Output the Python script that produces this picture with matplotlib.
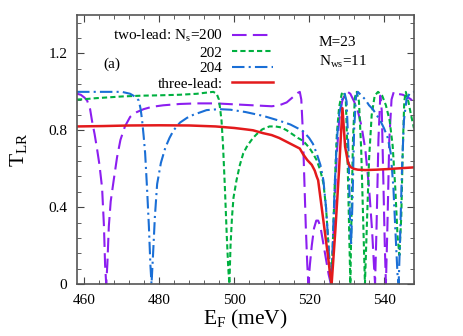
import numpy as np
import matplotlib
matplotlib.use("Agg")
import matplotlib.pyplot as plt
from matplotlib.ticker import MultipleLocator

plt.rcParams['font.family'] = ['Liberation Serif', 'DejaVu Serif']
plt.rcParams['mathtext.fontset'] = 'custom'
plt.rcParams['mathtext.rm'] = 'Liberation Serif'
plt.rcParams['mathtext.it'] = 'Liberation Serif:italic'

# two-lead, Ns=200
e200 = [458.0, 459.0, 460.0, 460.7, 461.5, 462.0, 462.7, 463.3, 464.0, 464.7, 465.2, 465.5,
        465.8, 466.1, 466.5, 467.0, 467.8, 468.7, 469.6, 470.8, 472.2, 474.0, 475.8, 478.0,
        481.0, 485.5, 490.0, 495.0, 500.0, 505.0, 510.0, 512.0, 514.0, 515.8, 517.0, 517.5,
        517.9, 518.3, 518.7, 519.1, 519.5, 519.8, 520.2, 520.7, 521.3, 521.9, 522.4, 523.0,
        523.7, 524.4, 525.2, 525.8, 526.3, 526.8, 527.4, 528.0, 528.8, 529.6, 530.3, 531.0,
        532.0, 533.0, 534.0, 535.0, 536.0, 536.8, 537.3, 537.6, 538.0, 538.5, 539.0, 539.4,
        539.8, 540.2, 540.5, 540.9, 541.4, 542.0, 542.6, 543.5, 545.0, 546.5, 548.0]
t200 = [0.99, 0.985, 0.97, 0.955, 0.91, 0.85, 0.78, 0.71, 0.62, 0.50, 0.30, 0.10,
        0.0, 0.10, 0.30, 0.43, 0.54, 0.66, 0.75, 0.82, 0.87, 0.895, 0.91, 0.922,
        0.93, 0.937, 0.94, 0.94, 0.935, 0.93, 0.925, 0.93, 0.945, 0.975, 0.995, 1.0,
        0.96, 0.8, 0.55, 0.3, 0.1, 0.0, 0.1, 0.2, 0.29, 0.33, 0.33, 0.3,
        0.22, 0.14, 0.05, 0.0, 0.15, 0.42, 0.68, 0.85, 0.95, 0.99, 1.0, 0.99,
        0.95, 0.9, 0.82, 0.7, 0.5, 0.28, 0.1, 0.0, 0.3, 0.75, 0.98, 0.9,
        0.55, 0.2, 0.0, 0.3, 0.75, 0.96, 1.0, 0.99, 0.985, 0.97, 0.95]

# two-lead, Ns=202
e202 = [458.0, 460.0, 463.0, 466.9, 470.0, 475.0, 480.0, 485.5, 490.0, 493.0, 494.4, 495.3,
        495.9, 496.3, 496.6, 497.0, 497.5, 498.0, 498.4, 498.7, 499.0, 499.4, 499.8, 500.6,
        501.5, 502.4, 503.5, 505.0, 506.0, 507.5, 509.4, 511.0, 512.5, 514.0, 515.5, 517.0,
        518.4, 520.0, 521.0, 522.0, 523.0, 523.8, 524.5, 525.1, 525.6, 525.9, 526.3, 526.8,
        527.4, 528.0, 528.7, 529.3, 529.8, 530.2, 530.6, 531.0, 531.3, 531.7, 532.2, 532.7,
        533.3, 533.9, 534.4, 534.9, 535.4, 536.0, 536.7, 537.5, 538.4, 539.5, 540.5, 541.5,
        542.3, 543.0, 543.6, 544.1, 544.6, 545.0, 545.4, 545.8, 546.5, 547.2, 548.0]
t202 = [0.96, 0.962, 0.967, 0.972, 0.976, 0.98, 0.982, 0.985, 0.99, 0.997, 1.0, 0.99,
        0.96, 0.9, 0.85, 0.72, 0.5, 0.25, 0.08, 0.0, 0.2, 0.35, 0.45, 0.54,
        0.62, 0.68, 0.72, 0.76, 0.78, 0.805, 0.82, 0.82, 0.815, 0.80, 0.78, 0.76,
        0.745, 0.71, 0.68, 0.645, 0.59, 0.525, 0.4, 0.22, 0.05, 0.0, 0.2, 0.5,
        0.78, 0.92, 0.99, 1.0, 0.95, 0.7, 0.35, 0.0, 0.35, 0.75, 0.97, 1.0,
        0.95, 0.7, 0.35, 0.0, 0.3, 0.65, 0.88, 0.98, 1.0, 0.98, 0.93, 0.85,
        0.72, 0.5, 0.25, 0.15, 0.35, 0.7, 0.95, 1.0, 0.95, 0.88, 0.81]

# two-lead, Ns=204
e204 = [458.0, 462.0, 466.0, 470.0, 472.2, 473.5, 474.5, 475.0, 475.4, 475.8, 476.2, 476.7,
        477.2, 477.6, 477.9, 478.3, 478.8, 479.4, 480.4, 481.6, 482.7, 483.8, 485.5, 487.4,
        489.0, 492.6, 496.0, 499.0, 503.0, 507.7, 512.0, 515.0, 517.0, 518.4, 520.0, 521.0,
        522.0, 523.0, 523.8, 524.5, 525.1, 525.6, 525.9, 526.3, 526.8, 527.4, 528.0, 528.8,
        529.5, 530.0, 530.5, 530.9, 531.2, 531.6, 532.0, 532.5, 533.0, 534.0, 535.0, 536.0,
        537.0, 538.0, 539.0, 540.0, 541.0, 541.8, 542.5, 543.1, 543.6, 543.9, 544.3, 544.8,
        545.3, 546.0, 546.8, 548.0]
t204 = [1.0, 1.0, 1.0, 1.0, 0.99, 0.975, 0.955, 0.91, 0.85, 0.77, 0.68, 0.5,
        0.3, 0.1, 0.0, 0.15, 0.35, 0.52, 0.63, 0.71, 0.76, 0.80, 0.84, 0.865,
        0.88, 0.905, 0.91, 0.907, 0.895, 0.875, 0.85, 0.83, 0.81, 0.795, 0.76, 0.73,
        0.68, 0.62, 0.54, 0.4, 0.22, 0.05, 0.0, 0.2, 0.5, 0.75, 0.88, 0.96,
        0.99, 0.95, 0.7, 0.35, 0.2, 0.45, 0.8, 0.97, 1.0, 0.98, 0.96, 0.93,
        0.91, 0.88, 0.85, 0.81, 0.76, 0.68, 0.5, 0.25, 0.05, 0.0, 0.25, 0.6,
        0.85, 0.96, 0.99, 1.0]

# three-lead
e3 = [458.0, 465.0, 472.0, 480.0, 488.0, 495.0, 500.0, 503.0, 505.0, 507.7, 510.0, 512.0,
      514.0, 516.0, 517.5, 518.4, 519.5, 520.7, 521.5, 522.0, 522.4, 523.0, 524.0, 525.0,
      525.6, 526.0, 526.5, 527.0, 527.5, 528.0, 528.5, 528.9, 529.6, 530.4, 531.0, 531.8,
      533.0, 535.0, 538.0, 541.0, 544.0, 548.0]
t3 = [0.82, 0.822, 0.825, 0.826, 0.825, 0.82, 0.812, 0.805, 0.80, 0.785, 0.775, 0.76,
      0.74, 0.72, 0.705, 0.675, 0.645, 0.62, 0.59, 0.56, 0.54, 0.45, 0.30, 0.15,
      0.05, 0.0, 0.14, 0.28, 0.44, 0.6, 0.78, 0.915, 0.715, 0.63, 0.61, 0.60,
      0.595, 0.593, 0.595, 0.598, 0.602, 0.607]

labels = ['two-lead: N$_\\mathrm{s}$=200', '202', '204', 'three-lead:']

fig = plt.figure(figsize=(4.63, 3.36), dpi=100)
ax = fig.add_axes([77/463, 1-284/336, 337/463, 269/336])

ax.plot(e200, t200, color='#8c1ef0', lw=1.5, dashes=(7, 3), label=labels[0])
ax.plot(e202, t202, color='#00b040', lw=1.5, dashes=(2.5, 1.5), label=labels[1])
ax.plot(e204, t204, color='#1a6fd6', lw=1.5, dashes=(6, 2, 1, 2), label=labels[2])
ax.plot(e3, t3, color='#e31a1c', lw=1.8, label=labels[3])

ax.set_xlim(458, 548)
ax.set_ylim(0, 1.4)
ax.xaxis.set_major_locator(MultipleLocator(20))
ax.xaxis.set_minor_locator(MultipleLocator(4))
ax.yaxis.set_major_locator(MultipleLocator(0.4))
ax.yaxis.set_minor_locator(MultipleLocator(0.08))
ax.set_yticks([0, 0.4, 0.8, 1.2])
ax.set_yticklabels(['0', '0.4', '0.8', '1.2'])
ax.tick_params(which='both', direction='in', top=True, right=True, labelsize=11,
               color='#444444')
ax.tick_params(which='major', length=5, pad=7)
ax.tick_params(which='minor', length=3)
for s in ax.spines.values():
    s.set_color('#555555')
    s.set_linewidth(1.2)

ax.set_xlabel('E$_\\mathrm{F}$ (meV)', fontsize=15.5, labelpad=1)
ax.set_ylabel('T$_\\mathrm{LR}$', fontsize=15.5, labelpad=14)

leg = ax.legend(loc='upper right', bbox_to_anchor=(273/463, 1-28/336),
                bbox_transform=fig.transFigure, frameon=False, markerfirst=False,
                fontsize=11, handlelength=2.7, handletextpad=0.6,
                labelspacing=0.12, borderpad=0, borderaxespad=0)

ax.text(103/463, 1-64/336, '(a)', transform=fig.transFigure, fontsize=11,
        va='center', ha='left')
ax.text(319/463, 1-43/336, 'M=23', transform=fig.transFigure, fontsize=11,
        va='center', ha='left')
ax.text(319/463, 1-62/336, 'N$_\\mathrm{ws}$=11', transform=fig.transFigure, fontsize=11,
        va='center', ha='left')

fig.savefig('out.png', dpi=100)
